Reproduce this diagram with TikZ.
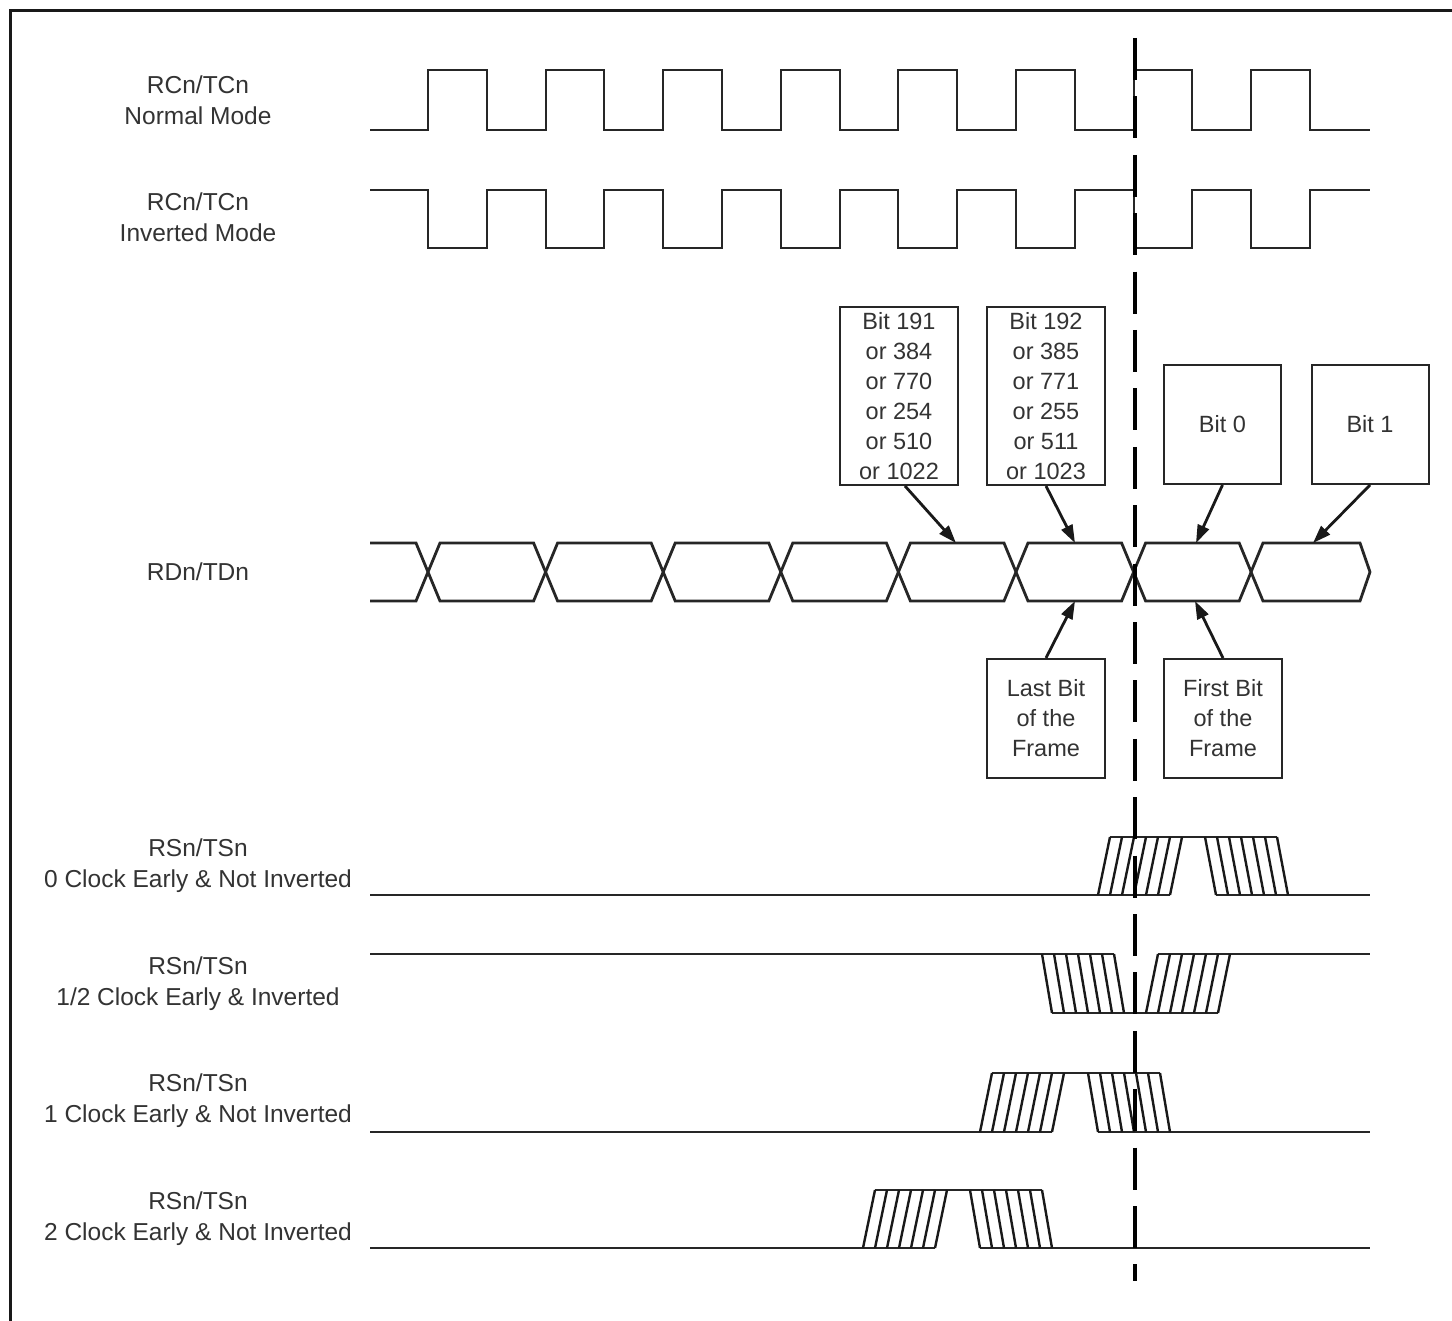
\documentclass[tikz,border=0pt]{standalone}
\usepackage{fontspec}
\setmainfont{Liberation Sans}
\usetikzlibrary{arrows.meta,calc}
\newcommand\hband[4]{\foreach \i in {0,...,6}{\draw[hatch] ({#1+12*\i},#3) -- ({#2+12*\i},#4);}}
\begin{document}
\begin{tikzpicture}[x=1pt,y=-1pt,
  wave/.style={line width=2.8pt, draw=black!85, line join=miter},
  lbl/.style={font=\fontsize{24.5}{31}\selectfont, text=black!80, align=center, inner sep=0pt},
  bitbox/.style={draw=black!85, line width=2pt, font=\fontsize{23.5}{30}\selectfont, text=black!80, align=center, inner sep=0pt},
  pointer/.style={line width=2.8pt, draw=black!90, -{Triangle[length=18pt,width=12pt]}},
  hatch/.style={line width=2.4pt, draw=black!90},
  marker/.style={line width=4pt, draw=black, dash pattern=on 42pt off 16.4pt}]
\useasboundingbox (0,0) rectangle (1452,1321);
\fill[white] (0,0) rectangle (1452,1321);
% frame
\draw[line width=3pt, black!90] (10,1321) -- (10,11) -- (1452,11);

% labels
\node[lbl] (lnorm) at (198,100) {RCn/TCn\\Normal Mode};
\node[lbl] (linv) at (198,217.5) {RCn/TCn\\Inverted Mode};
\node[lbl] (lrd) at (198,572) {RDn/TDn};
\node[lbl] (ls0) at (198,866) {RSn/TSn\\0 Clock Early \& Not Inverted};
\node[lbl] (ls1) at (198,984) {RSn/TSn\\1/2 Clock Early \& Inverted};
\node[lbl] (ls2) at (198,1101) {RSn/TSn\\1 Clock Early \& Not Inverted};
\node[lbl] (ls3) at (198,1219) {RSn/TSn\\2 Clock Early \& Not Inverted};

% clocks
\draw[wave] (370,130) -| (428,70) -| (487,130) -| (546,70) -| (604,130) -| (663,70) -| (722,130) -| (781,70) -| (840,130) -| (898,70) -| (957,130) -| (1016,70) -| (1075,130) -| (1134,70) -| (1192,130) -| (1251,70) -| (1310,130) -- (1370,130);
\draw[wave] (370,190) -| (428,248) -| (487,190) -| (546,248) -| (604,190) -| (663,248) -| (722,190) -| (781,248) -| (840,190) -| (898,248) -| (957,190) -| (1016,248) -| (1075,190) -| (1134,248) -| (1192,190) -| (1251,248) -| (1310,190) -- (1370,190);

% data
\draw[wave] (370,543) -- (416,543) -- (428,572) -- (416,601) -- (370,601);
\foreach \k in {0,...,6} {
  \pgfmathsetmacro\ca{428+117.6*\k}
  \pgfmathsetmacro\cb{428+117.6*(\k+1)}
  \draw[wave] (\ca,572) -- ({\ca+12},543) -- ({\cb-12},543) -- (\cb,572) -- ({\cb-12},601) -- ({\ca+12},601) -- cycle;
}
\draw[wave] (1251,572) -- (1263,543) -- (1360,543) -- (1370,572) -- (1360,601) -- (1263,601) -- cycle;

% boxes
\node[bitbox, minimum width=118pt, minimum height=178pt] (b191) at (899,396) {Bit 191\\or 384\\or 770\\or 254\\or 510\\or 1022};
\node[bitbox, minimum width=118pt, minimum height=178pt] (b192) at (1046,396) {Bit 192\\or 385\\or 771\\or 255\\or 511\\or 1023};
\node[bitbox, minimum width=117pt, minimum height=119pt] (b0) at (1222.5,424.5) {Bit 0};
\node[bitbox, minimum width=117pt, minimum height=119pt] (b1) at (1370,424.5) {Bit 1};
\node[bitbox, minimum width=118pt, minimum height=119pt] (blast) at (1046,718.5) {Last Bit\\of the\\Frame};
\node[bitbox, minimum width=118pt, minimum height=119pt] (bfirst) at (1223,718.5) {First Bit\\of the\\Frame};

% pointers
\coordinate (t191) at (956,543);
\coordinate (t192) at (1075,543);
\coordinate (t0) at (1196,543);
\coordinate (t1) at (1313,543);
\coordinate (tlast) at (1075,601);
\coordinate (tfirst) at (1195,601);
\draw[pointer] ($(b191.south)+(6,0)$) -- (t191);
\draw[pointer] (b192.south) -- (t192);
\draw[pointer] (b0.south) -- (t0);
\draw[pointer] (b1.south) -- (t1);
\draw[pointer] (blast.north) -- (tlast);
\draw[pointer] (bfirst.north) -- (tfirst);

% sync row 0 clock early, not inverted
\draw[wave, line width=2.4pt] (370,895) -- (1170,895);
\draw[wave, line width=2.4pt] (1216,895) -- (1370,895);
\draw[wave, line width=2.4pt] (1110,837) -- (1277,837);
\hband{1098}{1110}{895}{837}
\hband{1216}{1205}{895}{837}

% sync row 1/2 clock early, inverted
\draw[wave, line width=2.4pt] (370,954) -- (1114,954);
\draw[wave, line width=2.4pt] (1158,954) -- (1370,954);
\draw[wave, line width=2.4pt] (1052,1013) -- (1218,1013);
\hband{1052}{1042}{1013}{954}
\hband{1146}{1158}{1013}{954}

% sync row 1 clock early
\draw[wave] (370,1132) -- (1052,1132);
\draw[wave] (1098,1132) -- (1370,1132);
\draw[wave, line width=2.4pt] (992,1073) -- (1160,1073);
\hband{980}{992}{1132}{1073}
\hband{1098}{1088}{1132}{1073}

% sync row 2 clock early
\draw[wave] (370,1248) -- (935,1248);
\draw[wave] (980,1248) -- (1370,1248);
\draw[wave, line width=2.4pt] (875,1190) -- (1042,1190);
\hband{863}{875}{1248}{1190}
\hband{980}{970}{1248}{1190}

% frame boundary marker
\coordinate (dtop) at (1135,38);
\coordinate (dbot) at (1135,1281);
\draw[marker] (dtop) -- (dbot);
\end{tikzpicture}
\end{document}
